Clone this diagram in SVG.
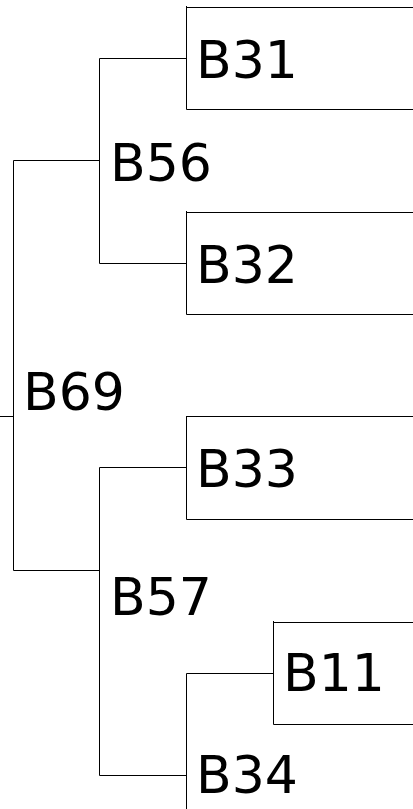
<svg xmlns="http://www.w3.org/2000/svg" width="413" height="809" viewBox="0 0 413 809">
<style>
.t{font-family:"DejaVu Sans",Verdana,sans-serif;font-size:52px;fill:#000}
.c{fill:none;stroke:#000;stroke-width:1}
</style>
<rect width="413" height="809" fill="#fff"/>
<g id="connectors">
<path class="c" d="M0,416.5H13.5M13.5,160.5V570.5M13.5,160.5H99.5M13.5,570.5H99.5"/>
<path class="c" d="M99.5,58.5V263.5M99.5,58.5H186.5M99.5,263.5H186.5"/>
<path class="c" d="M99.5,467.5V775.5M99.5,467.5H186.5M99.5,775.5H186.5"/>
<path class="c" d="M186.5,673.5V809M186.5,673.5H273.5"/>
</g>
<g id="B69"><text class="t" x="23" y="410">B69</text></g>
<g id="B56"><text class="t" x="110" y="181">B56</text></g>
<g id="B31"><path class="c" d="M186.5,6V109.5H414M186.5,7.5H414"/><text class="t" x="196" y="78">B31</text></g>
<g id="B32"><path class="c" d="M186.5,211V314.5H414M186.5,212.5H414"/><text class="t" x="196" y="283">B32</text></g>
<g id="B57"><text class="t" x="110" y="615">B57</text></g>
<g id="B33"><path class="c" d="M186.5,416V519.5H414M186.5,416.5H414"/><text class="t" x="196" y="487">B33</text></g>
<g id="B34"><text class="t" x="196" y="793">B34</text></g>
<g id="B11"><path class="c" d="M273.5,621V724.5H414M273.5,622.5H414"/><text class="t" x="283" y="691">B11</text></g>
</svg>
